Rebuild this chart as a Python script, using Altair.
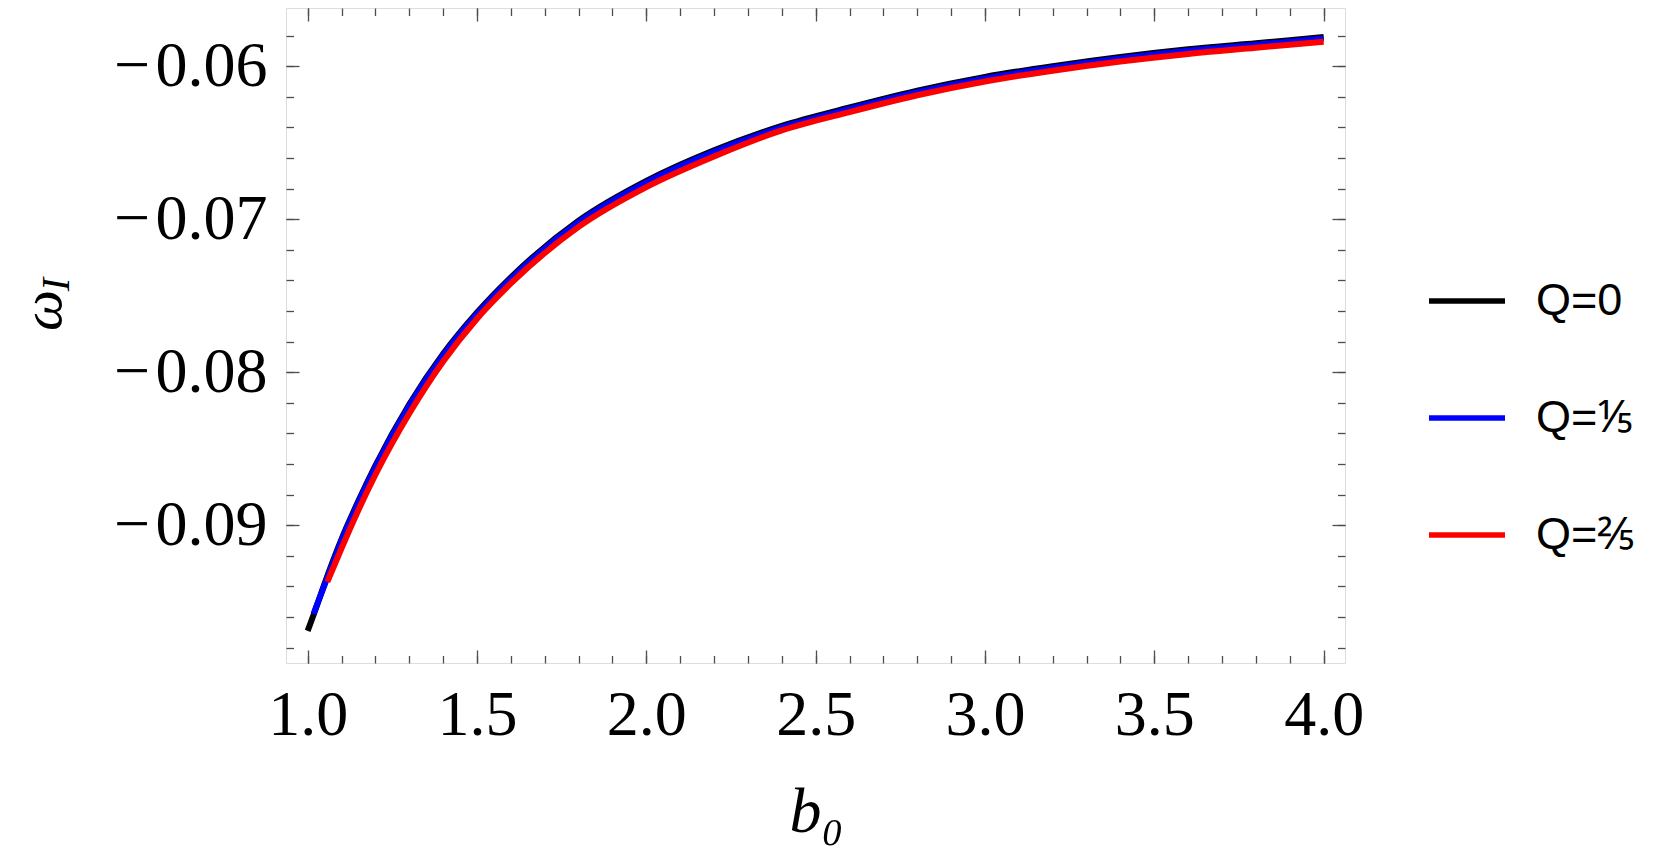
import altair as alt
import pandas as pd

# ---------------- data ----------------
series_names = ["Q=0", "Q=⅕", "Q=⅖"]
series_colors = ["#000000", "#0000ff", "#ff0000"]

b0_q0 = [1.00, 1.02, 1.05, 1.10, 1.15, 1.20, 1.30, 1.40, 1.50, 1.60, 1.80, 2.00,
         2.20, 2.40, 2.60, 2.80, 3.00, 3.20, 3.40, 3.60, 3.80, 4.00]
w_q0 = [-0.0969, -0.0957, -0.0938, -0.0909, -0.0884, -0.0861, -0.0821, -0.0788,
        -0.0761, -0.0738, -0.0701, -0.0675, -0.0655, -0.0639, -0.0627, -0.0616,
        -0.0607, -0.0600, -0.0594, -0.0589, -0.0585, -0.0581]

b0_q1 = [1.017, 1.05, 1.10, 1.15, 1.20, 1.30, 1.40, 1.50, 1.60, 1.80, 2.00,
         2.20, 2.40, 2.60, 2.80, 3.00, 3.20, 3.40, 3.60, 3.80, 4.00]
w_q1 = [-0.0958, -0.0939, -0.0910, -0.0885, -0.0862, -0.0822, -0.0789,
        -0.0762, -0.0739, -0.0702, -0.0676, -0.0656, -0.0640, -0.0628, -0.0617,
        -0.0608, -0.0601, -0.0595, -0.0590, -0.0586, -0.0582]

b0_q2 = [1.058, 1.10, 1.15, 1.20, 1.30, 1.40, 1.50, 1.60, 1.80, 2.00,
         2.20, 2.40, 2.60, 2.80, 3.00, 3.20, 3.40, 3.60, 3.80, 4.00]
w_q2 = [-0.0937, -0.0915, -0.0890, -0.0867, -0.0827, -0.0793, -0.0765,
        -0.0742, -0.0705, -0.0679, -0.0659, -0.0642, -0.0630, -0.0619,
        -0.0610, -0.0603, -0.0597, -0.0592, -0.0588, -0.0584]

x_major = [1.0, 1.5, 2.0, 2.5, 3.0, 3.5, 4.0]
x_minor = [1.0, 1.1, 1.2, 1.3, 1.4, 1.5, 1.6, 1.7, 1.8, 1.9, 2.0, 2.1, 2.2, 2.3,
           2.4, 2.5, 2.6, 2.7, 2.8, 2.9, 3.0, 3.1, 3.2, 3.3, 3.4, 3.5, 3.6, 3.7,
           3.8, 3.9, 4.0]
y_major = [-0.09, -0.08, -0.07, -0.06]
y_minor = [-0.098, -0.096, -0.094, -0.092, -0.090, -0.088, -0.086, -0.084,
           -0.082, -0.080, -0.078, -0.076, -0.074, -0.072, -0.070, -0.068,
           -0.066, -0.064, -0.062, -0.060, -0.058]

rows = []
for name, xs, ys in zip(series_names, [b0_q0, b0_q1, b0_q2], [w_q0, w_q1, w_q2]):
    for a, b in zip(xs, ys):
        rows.append({"series": name, "b0": a, "omega": b})
df = pd.DataFrame(rows)

# ---------------- layout ----------------
W, H = 1059, 655
PAD_L = 278
SERIF = "Liberation Serif"
SANS = "Liberation Sans"
TICK_C = "#4d4d4d"

xscale = alt.Scale(domain=[0.936, 4.063], nice=False, zero=False)
yscale = alt.Scale(domain=[-0.0990, -0.0562], nice=False, zero=False)
cscale = alt.Scale(domain=series_names, range=series_colors)

legend = alt.Legend(
    orient="none", legendX=1140, legendY=252, title=None, padding=0,
    symbolType="stroke", symbolSize=5776, symbolStrokeWidth=5.5,
    labelFont=SANS, labelFontSize=45, labelColor="black",
    labelOffset=28, rowPadding=53, labelLimit=400,
)

x_label_axis = alt.Axis(
    orient="bottom", values=x_major, format=".1f", ticks=False, tickSize=0,
    domain=False, grid=False, labelFont=SERIF, labelFontSize=64,
    labelColor="black", labelPadding=20, labelFlush=False, labelOverlap=False,
    title="b₀", titleFont=SERIF, titleFontSize=64, titleFontStyle="italic",
    titleFontWeight="normal", titleColor="black", titleBaseline="alphabetic",
    titleY=168, titleX=530,
)
y_label_axis = alt.Axis(
    orient="left", values=y_major,
    labelExpr="'−\u200a' + format(abs(datum.value), '.2f')",
    ticks=False, tickSize=0, domain=False, grid=False, labelFont=SERIF,
    labelFontSize=64, labelColor="black", labelPadding=19, labelFlush=False,
    labelOverlap=False,
    title="ω", titleFont=SERIF, titleFontSize=58, titleFontStyle="italic",
    titleFontWeight="normal", titleColor="black", titleAngle=-90,
    titleBaseline="alphabetic", titleAlign="center", titleX=-226, titleY=302,
)

base = alt.Chart(df)

line_layers = []
for name in series_names:
    line_layers.append(
        base.transform_filter(alt.datum.series == name)
        .mark_line(strokeWidth=6, clip=True, interpolate="monotone")
        .encode(
            x=alt.X("b0:Q", scale=xscale, axis=x_label_axis),
            y=alt.Y("omega:Q", scale=yscale, axis=y_label_axis),
            color=alt.Color("series:N", scale=cscale, legend=legend),
        )
    )
lines = alt.layer(*line_layers)


def tick_axis(orient, values, size, **extra):
    return alt.Axis(
        orient=orient, values=values, tickSize=size, offset=-size, labels=False,
        domain=False, grid=False, tickColor=TICK_C, tickWidth=1.3, **extra
    )


def tick_layer(xaxis, yaxis):
    return base.mark_point(opacity=0).encode(
        x=alt.X("b0:Q", scale=xscale, axis=xaxis),
        y=alt.Y("omega:Q", scale=yscale, axis=yaxis),
    )


t_major_bl = tick_layer(tick_axis("bottom", x_major, 13, title=None),
                        tick_axis("left", y_major, 13, title=None))
t_minor_bl = tick_layer(
    tick_axis("bottom", x_minor, 7.5, title=None),
    tick_axis("left", y_minor, 7.5, title="I", titleFont=SERIF,
              titleFontSize=40, titleFontStyle="italic", titleFontWeight="normal",
              titleColor="black", titleAngle=-90, titleBaseline="alphabetic",
              titleAlign="center", titleX=-286 + 60 - 7.5 + 8, titleY=276),
)
t_major_tr = tick_layer(tick_axis("top", x_major, 13, title=None),
                        tick_axis("right", y_major, 13, title=None))
t_minor_tr = tick_layer(tick_axis("top", x_minor, 7.5, title=None),
                        tick_axis("right", y_minor, 7.5, title=None))

chart = (
    alt.layer(lines, t_major_bl, t_minor_bl, t_major_tr, t_minor_tr)
    .resolve_scale(x="independent", y="independent")
    .properties(
        width=W, height=H,
        autosize=alt.AutoSizeParams(type="none"),
        padding={"left": PAD_L, "top": 0, "right": 300, "bottom": 190},
    )
    .configure_view(stroke="#333333", strokeWidth=1.6)
    .configure(background="white")
)

chart.save("out.html", embed_options={"renderer": "svg", "actions": False})
